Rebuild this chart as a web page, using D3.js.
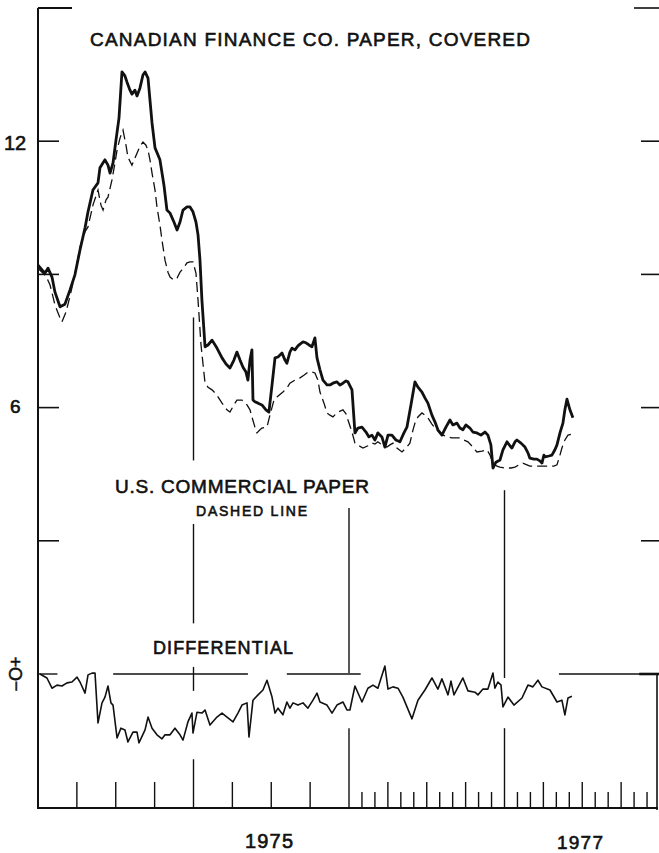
<!DOCTYPE html>
<html>
<head>
<meta charset="utf-8">
<script src="https://cdn.jsdelivr.net/npm/d3@7"></script>
<style>
  html, body { margin: 0; padding: 0; background: #fff; }
  svg { display: block; }
  text { font-family: "Liberation Sans", Arial, sans-serif; fill: #111; }
</style>
</head>
<body>
<svg id="chart" width="659" height="853"></svg>
<script>
// ---- Data (time in months since January 1974; rates in percent) ----
const yearLabels = ["1975", "1977"];
const yAxisTicks = [3, 6, 9, 12, 15];
const yAxisLabels = ["12", "6"];

const canMonths = [0,0.31,0.54,0.77,1.08,1.31,1.70,2.08,2.47,2.85,3.24,3.63,3.86,4.24,4.63,4.78,5.17,5.40,5.56,5.79,6.02,6.25,6.48,6.71,6.87,7.10,7.25,7.48,7.64,7.87,8.10,8.26,8.49,8.64,8.80,9.03,9.26,9.41,9.72,9.95,10.19,10.49,10.73,10.96,11.19,11.50,11.73,11.96,12.19,12.35,12.50,12.65,12.89,13.12,13.43,13.81,14.20,14.51,14.81,15.12,15.35,15.59,15.82,16.05,16.20,16.36,16.51,16.59,16.74,16.98,17.28,17.59,17.82,18.06,18.29,18.52,18.83,19.06,19.21,19.44,19.60,19.83,20.06,20.22,20.45,20.68,20.91,21.14,21.37,21.53,21.76,21.99,22.30,22.53,22.76,23.07,23.30,23.53,23.77,23.92,24.23,24.46,24.69,25.00,25.31,25.54,25.77,26.00,26.23,26.54,26.77,27.01,27.31,27.62,27.93,28.24,28.47,28.78,29.09,29.32,29.63,29.86,30.09,30.40,30.63,30.86,31.17,31.48,31.79,32.02,32.33,32.56,32.79,33.02,33.33,33.56,33.87,34.18,34.49,34.72,34.95,35.11,35.34,35.65,35.88,36.19,36.42,36.57,36.81,36.96,37.27,37.58,37.81,37.96,38.27,38.50,38.73,38.89,39.04,39.12,39.43,39.66,39.89,40.05,40.28,40.51,40.66,40.82,41.05,41.28];
const canRates = [9.21,9.10,9.03,9.14,8.94,8.60,8.27,8.33,8.65,8.99,9.55,10.05,10.41,10.90,11.06,11.40,11.58,11.46,11.28,11.51,12.03,12.52,13.56,13.47,13.33,13.15,13.06,13.15,13.02,13.20,13.49,13.56,13.42,12.93,12.41,11.85,11.69,11.58,11.01,10.45,10.38,10.18,10.00,10.18,10.45,10.52,10.52,10.41,10.18,9.89,9.32,8.42,7.37,7.41,7.52,7.34,7.12,6.98,6.89,7.07,7.25,7.07,6.91,6.80,6.62,7.07,7.30,6.17,6.13,6.10,6.06,5.95,5.90,6.51,7.12,7.14,7.23,7.07,7.00,7.25,7.34,7.30,7.39,7.43,7.48,7.46,7.41,7.37,7.57,7.12,6.85,6.62,6.51,6.51,6.55,6.58,6.51,6.55,6.60,6.58,6.40,5.43,5.54,5.56,5.45,5.34,5.38,5.27,5.43,5.34,5.11,5.38,5.38,5.27,5.23,5.43,5.56,6.06,6.58,6.46,6.35,6.22,6.10,5.83,5.68,5.50,5.38,5.56,5.72,5.61,5.65,5.54,5.50,5.61,5.54,5.45,5.43,5.38,5.45,5.38,5.16,4.64,4.77,4.82,5.05,5.23,5.14,5.09,5.23,5.27,5.20,5.11,4.98,4.86,4.84,4.84,4.80,4.75,4.93,4.89,4.91,4.93,5.05,5.16,5.43,5.65,5.95,6.19,5.95,5.77];

const usMonths = [0,0.31,0.62,0.93,1.31,1.70,1.85,2.16,2.47,2.85,3.24,3.63,3.86,4.24,4.63,4.86,5.02,5.25,5.40,5.71,5.94,6.10,6.33,6.56,6.79,6.94,7.25,7.48,7.64,7.87,8.10,8.33,8.49,8.64,8.80,9.03,9.18,9.41,9.57,9.80,10.03,10.19,10.49,10.73,10.96,11.11,11.34,11.50,11.73,11.96,12.19,12.35,12.58,12.89,13.12,13.43,13.66,13.81,14.20,14.58,14.81,15.12,15.35,15.74,16.13,16.36,16.51,16.74,16.90,17.13,17.28,17.67,17.90,18.21,18.44,18.90,19.21,19.44,19.83,20.22,20.52,20.83,21.14,21.37,21.60,21.76,22.07,22.30,22.53,22.76,22.99,23.15,23.53,23.77,23.92,24.23,24.46,24.77,25.08,25.46,25.77,26.00,26.23,26.54,26.93,27.16,27.39,27.70,28.09,28.40,28.70,28.94,29.09,29.32,29.63,29.86,30.09,30.40,30.63,31.02,31.25,31.64,31.94,32.25,32.56,32.87,33.18,33.56,33.87,34.26,34.65,34.88,35.11,35.42,35.65,35.96,36.19,36.50,36.81,37.11,37.42,37.73,37.96,38.35,38.73,39.12,39.51,39.81,40.05,40.28,40.43,40.66,40.90,41.28];
const usRates = [9.14,9.05,8.96,8.76,8.31,8.02,7.93,8.15,8.51,8.99,9.62,9.96,10.07,10.56,10.90,10.56,10.45,10.68,10.74,11.13,11.51,11.80,12.07,12.25,11.91,11.64,11.46,11.62,11.73,11.89,11.98,11.91,11.80,11.58,11.28,10.90,10.52,10.11,9.77,9.32,9.05,8.94,8.87,8.92,9.05,9.10,9.19,9.26,9.28,9.28,9.03,8.42,7.41,6.55,6.46,6.40,6.33,6.28,6.10,5.95,5.90,6.06,6.17,6.17,6.06,5.95,5.79,5.56,5.43,5.50,5.54,5.56,5.83,6.17,6.24,6.35,6.44,6.55,6.62,6.67,6.73,6.80,6.80,6.78,6.62,6.35,6.10,5.88,5.83,5.79,5.86,5.90,5.95,5.86,5.72,5.45,5.20,5.14,5.09,5.14,5.20,5.18,5.23,5.16,5.11,5.16,5.20,5.09,5.00,5.09,5.20,5.50,5.65,5.79,5.88,5.83,5.77,5.63,5.54,5.43,5.38,5.34,5.32,5.32,5.32,5.27,5.23,5.11,5.00,5.02,5.05,4.93,4.75,4.68,4.66,4.64,4.64,4.64,4.66,4.71,4.75,4.71,4.68,4.68,4.68,4.68,4.68,4.68,4.71,4.93,5.09,5.27,5.38,5.41];

const diffMonths = [0.15,0.69,1.08,1.47,1.85,2.24,2.62,3.01,3.24,3.63,3.86,4.17,4.40,4.63,4.94,5.17,5.40,5.63,5.79,6.10,6.40,6.71,6.94,7.33,7.64,7.79,8.26,8.49,8.80,9.18,9.57,9.80,10.19,10.57,10.96,11.19,11.57,11.88,11.96,12.27,12.65,12.89,13.27,13.81,14.20,14.66,15.05,15.43,15.74,16.13,16.28,16.59,16.98,17.36,17.67,18.06,18.29,18.52,18.90,19.21,19.44,19.68,20.06,20.45,20.83,21.22,21.53,21.76,22.30,22.69,23.07,23.53,23.84,24.07,24.46,25.00,25.46,25.85,26.23,26.77,27.01,27.39,27.78,28.16,28.86,29.32,29.86,30.40,30.86,31.17,31.64,31.87,32.10,32.79,33.18,33.72,33.95,34.34,34.72,35.11,35.26,35.49,35.73,35.88,36.27,36.73,37.35,37.81,38.19,38.58,38.89,39.51,40.05,40.43,40.66,40.90,41.20];
const diffValues = [0.00,-0.09,-0.32,-0.25,-0.27,-0.20,-0.18,-0.07,-0.18,-0.43,-0.02,0.02,0.02,-1.10,-0.65,-0.52,-0.27,-0.65,-0.70,-1.44,-1.22,-1.26,-1.53,-1.31,-1.31,-1.55,-1.26,-0.97,-1.22,-1.37,-1.46,-1.37,-1.37,-1.22,-1.37,-1.49,-1.08,-0.88,-1.33,-0.86,-0.88,-0.81,-1.15,-0.97,-0.88,-0.99,-1.08,-0.88,-0.70,-0.65,-1.42,-0.59,-0.47,-0.36,-0.14,-0.52,-0.88,-0.77,-0.92,-0.63,-0.77,-0.65,-0.70,-0.65,-0.77,-0.59,-0.43,-0.63,-0.70,-0.88,-0.70,-0.63,-0.81,-0.81,-0.27,-0.63,-0.32,-0.25,-0.32,0.18,-0.34,-0.29,-0.32,-0.52,-1.01,-0.59,-0.36,-0.09,-0.34,-0.11,-0.47,-0.16,-0.47,-0.09,-0.38,-0.41,-0.47,-0.34,-0.34,0.02,-0.32,-0.18,-0.25,-0.74,-0.52,-0.70,-0.54,-0.25,-0.29,-0.14,-0.29,-0.36,-0.63,-0.59,-0.92,-0.54,-0.50];

// zero reference line pieces (months)
const zeroStarts = [0, 5.8, 19.2, 40.2];
const zeroEnds   = [1.5, 16.2, 24.9, 48];

// ---- Drawing ----
const svg = d3.select("#chart");
const x = d3.scaleLinear().domain([0, 48]).range([38, 660]);
const y = d3.scaleLinear().domain([0, 15]).range([674, 8]);
const axisY = 808;
const black = "#111";

// left axis
svg.append("line").attr("x1", x(0)).attr("x2", x(0)).attr("y1", y(15)).attr("y2", axisY + 1)
  .attr("stroke", black).attr("stroke-width", 2);
svg.append("line").attr("x1", x(0)).attr("x2", x(0) + 34).attr("y1", y(15)).attr("y2", y(15))
  .attr("stroke", black).attr("stroke-width", 2);
svg.selectAll(".ltick").data(yAxisTicks.filter(d => d < 15)).join("line")
  .attr("x1", x(0)).attr("x2", x(0) + 21).attr("y1", d => y(d)).attr("y2", d => y(d))
  .attr("stroke", black).attr("stroke-width", 1.6);
// right ticks
svg.selectAll(".rtick").data(yAxisTicks).join("line")
  .attr("x1", d => d === 15 ? 634 : 641).attr("x2", 659).attr("y1", d => y(d)).attr("y2", d => y(d))
  .attr("stroke", black).attr("stroke-width", 1.6);
// right vertical (bottom portion)
svg.append("line").attr("x1", 657).attr("x2", 657).attr("y1", y(0)).attr("y2", axisY + 2)
  .attr("stroke", black).attr("stroke-width", 1.6);

// bottom axis
svg.append("line").attr("x1", x(0)).attr("x2", 658).attr("y1", axisY).attr("y2", axisY)
  .attr("stroke", black).attr("stroke-width", 2.2);
const months = d3.range(1, 48);
svg.selectAll(".btick").data(months.filter(m => m % 12 !== 0 && (m >= 24 || m % 3 === 0))).join("line")
  .attr("x1", d => x(d)).attr("x2", d => x(d)).attr("y1", axisY)
  .attr("y2", d => d % 3 === 0 ? axisY - 26 : axisY - 16)
  .attr("stroke", black).attr("stroke-width", 1.4);

// year boundary lines (segments in y-value units)
const yearLines = [
  {m: 12, segs: [[8.03, 4.81], [3.38, 1.14], [0.16, -0.38], [-1.92, -3.02]]},
  {m: 24, segs: [[3.74, 0.02], [-1.22, -3.02]]},
  {m: 36, segs: [[4.14, -0.09], [-1.22, -3.02]]}
];
yearLines.forEach(l => {
  l.segs.forEach(s => {
    svg.append("line").attr("x1", x(l.m)).attr("x2", x(l.m))
      .attr("y1", y(s[0])).attr("y2", y(s[1]))
      .attr("stroke", black).attr("stroke-width", 1.4);
  });
});

// zero line pieces
zeroStarts.forEach((s, i) => {
  svg.append("line").attr("x1", x(s)).attr("x2", x(zeroEnds[i])).attr("y1", y(0)).attr("y2", y(0))
    .attr("stroke", black).attr("stroke-width", 1.4);
});
svg.append("line").attr("x1", x(46.4)).attr("x2", 659).attr("y1", y(0)).attr("y2", y(0))
  .attr("stroke", black).attr("stroke-width", 2.6);

// series
const line = d3.line().x(d => x(d[0])).y(d => y(d[1]));
svg.append("path").datum(d3.zip(usMonths, usRates)).attr("d", line)
  .attr("fill", "none").attr("stroke", black).attr("stroke-width", 1.3)
  .attr("stroke-dasharray", "10,5");
svg.append("path").datum(d3.zip(canMonths, canRates)).attr("d", line)
  .attr("fill", "none").attr("stroke", black).attr("stroke-width", 2.8)
  .attr("stroke-linejoin", "round");
svg.append("path").datum(d3.zip(diffMonths, diffValues)).attr("d", line)
  .attr("fill", "none").attr("stroke", black).attr("stroke-width", 1.6)
  .attr("stroke-linejoin", "round");

// texts
function label(txt, x0, base, size, len) {
  const t = svg.append("text").attr("x", x0).attr("y", base).attr("font-size", size)
    .attr("stroke", black).attr("stroke-width", 0.6).text(txt);
  if (len) t.attr("textLength", len).attr("lengthAdjust", "spacing");
  return t;
}
label("CANADIAN  FINANCE  CO.  PAPER,  COVERED", 90, 46, 19, 440);
label("U.S.  COMMERCIAL  PAPER", 115, 493, 19, 254);
label("DASHED  LINE", 196, 516, 14, 111);
label("DIFFERENTIAL", 153, 654, 18, 140);
label(yearLabels[0], 245, 848, 20, 48);
label(yearLabels[1], 557, 849, 19, 46);
label(yAxisLabels[0], 4, 150, 20);
label(yAxisLabels[1], 10, 413, 19);
svg.append("text").attr("transform", "translate(22," + y(0) + ") rotate(-90)")
  .attr("text-anchor", "middle").attr("font-size", 18)
  .attr("stroke", black).attr("stroke-width", 0.5).text("\u2212O+");
</script>
</body>
</html>
